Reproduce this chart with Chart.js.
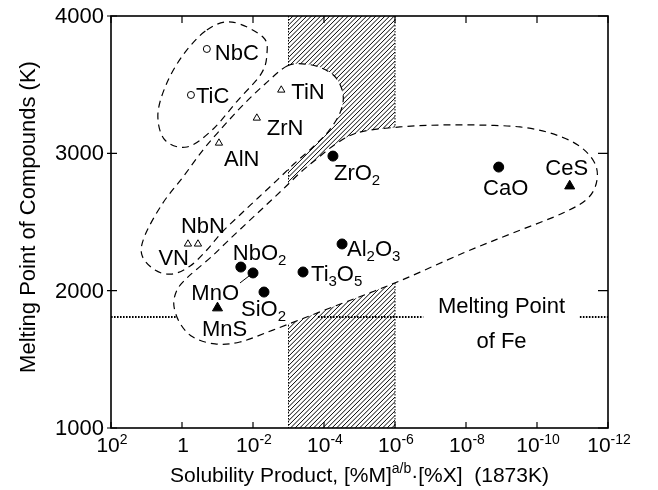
<!DOCTYPE html>
<html>
<head>
<meta charset="utf-8">
<script src="https://cdn.jsdelivr.net/npm/chart.js@4"></script>
<style>
  html, body { margin: 0; padding: 0; background: #fff; }
  #wrap { width: 658px; height: 490px; position: relative; }
</style>
</head>
<body>
<div id="wrap"><canvas id="chart"></canvas></div>
<script>
// compounds ("_" marks a subscript digit)
const compounds = ["NbC", "TiC", "TiN", "ZrN", "AlN", "VN", "NbN", "NbO_2", "MnO", "SiO_2", "MnS", "Ti_3O_5", "Al_2O_3", "ZrO_2", "CaO", "CeS"];
const solubility = [0.2, 0.56, 1.6e-3, 7.8e-3, 0.091, 0.68, 0.355, 0.022, 0.01, 4.9e-3, 0.1, 3.9e-4, 3.1e-5, 5.6e-5, 1.2e-9, 1.2e-11];
const meltingPoint = [3760, 3425, 3461, 3257, 3075, 2340, 2340, 2172, 2129, 1990, 1874, 2136, 2340, 2980, 2900, 2762];
// oc = open circle (carbide), ot = open triangle (nitride), fc = filled circle (oxide), ft = filled triangle (sulfide)
const markerKind = ["oc", "oc", "ot", "ot", "ot", "ot", "ot", "fc", "fc", "fc", "ft", "fc", "fc", "fc", "fc", "ft"];

// axes
const xTickExps = [2, 0, -2, -4, -6, -8, -10, -12];
const yTicks = [1000, 2000, 3000, 4000];

// melting point of Fe and the hatched band (1873K window)
const feMelting = 1809;
const feSegments = [[100, 1.5], [1.48e-4, 1.6e-7], [6.2e-12, 1e-12]];
const hatchBand = [1e-3, 1e-6];

// dashed group outlines, vertices as [log10 solubility, K]
const outlineCarbides = [[-0.70, 3898], [-1.41, 3956], [-2.28, 3847], [-2.39, 3716], [-2.22, 3575], [-1.58, 3388],
  [-0.85, 3170], [-0.14, 3046], [0.48, 3097], [0.68, 3279], [0.45, 3498], [-0.03, 3716]];
const outlineNitrides = [[-2.96, 3636], [-3.46, 3650], [-3.94, 3621], [-4.34, 3549], [-4.54, 3425], [-4.45, 3294],
  [-4.11, 3155], [-3.66, 3039], [-3.15, 2922], [-2.65, 2798], [-2.14, 2675], [-1.63, 2551], [-1.13, 2427],
  [-0.70, 2296], [-0.23, 2180], [0.28, 2121], [0.76, 2150], [1.13, 2260], [1.04, 2405], [0.54, 2638],
  [-0.03, 2828], [-0.59, 3024], [-1.15, 3192], [-1.72, 3352], [-2.34, 3505]];
const outlineOxides = [[-5.01, 3155], [-6.14, 3192], [-7.27, 3206], [-8.39, 3206], [-9.52, 3192], [-10.37, 3148],
  [-11.15, 3061], [-11.61, 2937], [-11.69, 2806], [-11.44, 2675], [-10.73, 2565], [-9.32, 2420], [-7.92, 2274],
  [-6.06, 2063], [-4.17, 1874], [-2.56, 1713], [-1.63, 1626], [-0.93, 1612], [-0.31, 1662], [0.06, 1764],
  [0.23, 1896], [0.14, 2005], [-0.11, 2085], [-0.39, 2150], [-0.85, 2252], [-1.32, 2369], [-1.83, 2493],
  [-2.34, 2616], [-2.85, 2740], [-3.35, 2864], [-3.83, 2966], [-4.37, 3075]];

// label placement: [dx, dy, align, leader dx, leader dy] in pixels from the marker
const labelOffsets = [
  [8, 3, "left"], [5, 0, "left"], [10, 1, "left"], [10, 9, "left"], [5, 15, "left"],
  [1, 13, "right"], [5, -19, "center"], [-8, -15, "left"], [-14, 19, "right", -13, 10],
  [-23, 16, "left"], [7, 20, "center"], [8, 1, "left"], [5, 4, "left"], [1, 16, "left"],
  [7, 20, "center"], [-3, -19, "center"]
];

const FONT = "'Liberation Sans', Arial, Helvetica, sans-serif";

const markerStyles = {
  oc: { pointStyle: "circle", radius: 3.5, bg: "#fff", bw: 1 },
  ot: { pointStyle: "triangle", radius: 4.2, bg: "#fff", bw: 1 },
  fc: { pointStyle: "circle", radius: 5, bg: "#000", bw: 1 },
  ft: { pointStyle: "triangle", radius: 5.8, bg: "#000", bw: 1 }
};

const datasets = Object.keys(markerStyles).map(kind => {
  const st = markerStyles[kind];
  const pts = [];
  compounds.forEach((c, i) => {
    if (markerKind[i] === kind) pts.push({ x: solubility[i], y: meltingPoint[i], i: i });
  });
  return {
    label: kind,
    data: pts,
    pointStyle: st.pointStyle,
    pointRadius: st.radius,
    pointBackgroundColor: st.bg,
    pointBorderColor: "#000",
    pointBorderWidth: st.bw,
    showLine: false
  };
});

function partsFromLabel(text, size) {
  const parts = [];
  let buf = "";
  for (let k = 0; k < text.length; k++) {
    if (text[k] === "_") {
      if (buf) parts.push({ t: buf, s: size, dy: 0 });
      buf = "";
      parts.push({ t: text[k + 1], s: Math.round(size * 0.68), dy: 5 });
      k++;
    } else {
      buf += text[k];
    }
  }
  if (buf) parts.push({ t: buf, s: size, dy: 0 });
  return parts;
}

function drawParts(ctx, parts, x, y, align) {
  let w = 0;
  parts.forEach(p => { ctx.font = p.s + "px " + FONT; p.w = ctx.measureText(p.t).width; w += p.w; });
  let cx = align === "center" ? x - w / 2 : align === "right" ? x - w : x;
  ctx.textAlign = "left";
  ctx.textBaseline = "alphabetic";
  parts.forEach(p => {
    ctx.font = p.s + "px " + FONT;
    ctx.fillText(p.t, cx, y + p.dy);
    cx += p.w;
  });
}

function closedCurve(ctx, pts) {
  const n = pts.length;
  ctx.moveTo(pts[0][0], pts[0][1]);
  for (let i = 0; i < n; i++) {
    const p0 = pts[(i - 1 + n) % n], p1 = pts[i], p2 = pts[(i + 1) % n], p3 = pts[(i + 2) % n];
    ctx.bezierCurveTo(p1[0] + (p2[0] - p0[0]) / 6, p1[1] + (p2[1] - p0[1]) / 6,
      p2[0] - (p3[0] - p1[0]) / 6, p2[1] - (p3[1] - p1[1]) / 6, p2[0], p2[1]);
  }
  ctx.closePath();
}

const overlay = {
  id: "overlay",
  beforeDatasetsDraw(chart) {
    const { ctx, chartArea: a, scales: { x, y } } = chart;
    const toPx = o => o.map(p => [x.getPixelForValue(Math.pow(10, p[0])), y.getPixelForValue(p[1])]);

    // hatched band
    const hx1 = x.getPixelForValue(hatchBand[0]), hx2 = x.getPixelForValue(hatchBand[1]);
    const h = a.bottom - a.top;
    ctx.save();
    ctx.beginPath();
    ctx.rect(hx1, a.top, hx2 - hx1, h);
    ctx.clip();
    ctx.strokeStyle = "#000";
    ctx.lineWidth = 1;
    ctx.beginPath();
    for (let k = hx1 - h; k < hx2 + 5; k += 4.6) {
      ctx.moveTo(k, a.bottom);
      ctx.lineTo(k + h, a.top);
    }
    ctx.stroke();
    ctx.restore();

    ctx.save();
    ctx.strokeStyle = "#000";
    ctx.lineWidth = 1;
    ctx.setLineDash([1.5, 1.5]);
    ctx.beginPath();
    ctx.moveTo(hx1, a.top); ctx.lineTo(hx1, a.bottom);
    ctx.moveTo(hx2, a.top); ctx.lineTo(hx2, a.bottom);
    ctx.stroke();
    ctx.restore();

    // group outlines
    const outlines = [outlineCarbides, outlineNitrides, outlineOxides].map(toPx);
    ctx.save();
    ctx.fillStyle = "#fff";
    outlines.forEach(o => { ctx.beginPath(); closedCurve(ctx, o); ctx.fill(); });
    ctx.strokeStyle = "#000";
    ctx.lineWidth = 1.2;
    ctx.setLineDash([7, 5]);
    outlines.forEach(o => { ctx.beginPath(); closedCurve(ctx, o); ctx.stroke(); });
    ctx.restore();

    // melting point of Fe
    const fy = y.getPixelForValue(feMelting);
    ctx.save();
    ctx.strokeStyle = "#000";
    ctx.lineWidth = 2;
    ctx.setLineDash([1.6, 1.4]);
    ctx.beginPath();
    feSegments.forEach(s => {
      ctx.moveTo(x.getPixelForValue(s[0]), fy);
      ctx.lineTo(x.getPixelForValue(s[1]), fy);
    });
    ctx.stroke();
    ctx.restore();
  },
  afterDraw(chart) {
    const { ctx, chartArea: a, scales: { x, y } } = chart;
    ctx.save();
    ctx.strokeStyle = "#000";
    ctx.fillStyle = "#000";
    ctx.lineWidth = 1.6;
    ctx.strokeRect(a.left, a.top, a.right - a.left, a.bottom - a.top);

    // ticks
    ctx.lineWidth = 1.2;
    ctx.beginPath();
    xTickExps.forEach(e => {
      const px = x.getPixelForValue(Math.pow(10, e));
      ctx.moveTo(px, a.bottom); ctx.lineTo(px, a.bottom - 6);
      ctx.moveTo(px, a.top); ctx.lineTo(px, a.top + 7);
    });
    yTicks.forEach(v => {
      const py = y.getPixelForValue(v);
      ctx.moveTo(a.left - 4, py); ctx.lineTo(a.left + 6, py);
      ctx.moveTo(a.right - 10, py); ctx.lineTo(a.right, py);
    });
    ctx.stroke();

    // tick labels
    xTickExps.forEach(e => {
      const px = x.getPixelForValue(Math.pow(10, e));
      const parts = e === 0 ? [{ t: "1", s: 21, dy: 0 }] :
        [{ t: "10", s: 21, dy: 0 }, { t: e < 0 ? "-" + (-e) : String(e), s: 14, dy: -8 }];
      drawParts(ctx, parts, px + 1, a.bottom + 24, "center");
    });
    yTicks.forEach(v => {
      drawParts(ctx, [{ t: String(v), s: 22, dy: 0 }], a.left - 7, y.getPixelForValue(v) + 7, "right");
    });

    // axis titles
    drawParts(ctx, [
      { t: "Solubility Product, [%M]", s: 21, dy: 0 },
      { t: "a/b", s: 14, dy: -9 },
      { t: "\u00b7[%X]  (1873K)", s: 21, dy: 0 }
    ], (a.left + a.right) / 2, a.bottom + 54, "center");
    ctx.save();
    ctx.translate(35, (a.top + a.bottom) / 2 - 5);
    ctx.rotate(-Math.PI / 2);
    drawParts(ctx, [{ t: "Melting Point of Compounds (K)", s: 22, dy: 0 }], 0, 0, "center");
    ctx.restore();

    // compound labels
    compounds.forEach((c, i) => {
      const px = x.getPixelForValue(solubility[i]), py = y.getPixelForValue(meltingPoint[i]);
      const o = labelOffsets[i];
      drawParts(ctx, partsFromLabel(c, 22), px + o[0], py + o[1] + 8, o[2]);
      if (o.length > 3) {
        ctx.lineWidth = 1;
        ctx.beginPath();
        ctx.moveTo(px, py);
        ctx.lineTo(px + o[3], py + o[4]);
        ctx.stroke();
      }
    });

    // Fe melting point note
    const nx = x.getPixelForValue(1e-9);
    drawParts(ctx, [{ t: "Melting Point", s: 22, dy: 0 }], nx, y.getPixelForValue(1837), "center");
    drawParts(ctx, [{ t: "of Fe", s: 22, dy: 0 }], nx, y.getPixelForValue(1582), "center");
    ctx.restore();
  }
};

new Chart(document.getElementById("chart"), {
  type: "scatter",
  data: { datasets: datasets },
  options: {
    responsive: true,
    maintainAspectRatio: false,
    animation: false,
    layout: { padding: { left: 111, right: 50, top: 16, bottom: 62 } },
    plugins: { legend: { display: false }, tooltip: { enabled: false } },
    scales: {
      x: { type: "logarithmic", reverse: true, min: 1e-12, max: 1e2, display: false },
      y: { type: "linear", min: 1000, max: 4000, display: false }
    }
  },
  plugins: [overlay]
});
</script>
</body>
</html>
